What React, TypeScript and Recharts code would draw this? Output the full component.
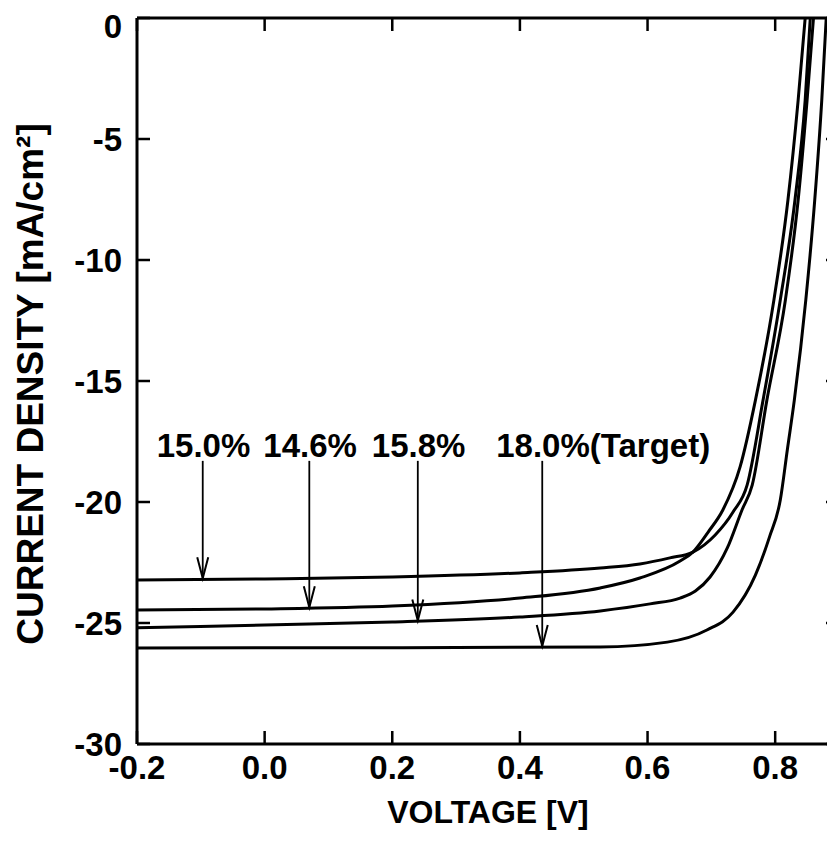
import React from "react";
import { LineChart, Line, XAxis, YAxis, ReferenceLine } from "recharts";

const voltageTicks = [-0.2, 0, 0.2, 0.4, 0.6, 0.8];
const currentTicks = [-30, -25, -20, -15, -10, -5, 0];

// 15.0% cell
const curveAVoltage = [-0.2, 0.0, 0.2, 0.4, 0.526, 0.588, 0.635, 0.671, 0.706, 0.734, 0.756, 0.781, 0.808, 0.831, 0.847, 0.855];
const curveACurrent = [-23.22, -23.18, -23.1, -22.93, -22.73, -22.56, -22.31, -22.07, -21.36, -20.41, -19.3, -15.79, -11.65, -7.52, -3.39, 0];

// 14.6% cell
const curveBVoltage = [-0.2, 0.0, 0.2, 0.4, 0.526, 0.588, 0.651, 0.671, 0.695, 0.718, 0.745, 0.769, 0.798, 0.82, 0.836, 0.847];
const curveBCurrent = [-24.46, -24.42, -24.3, -23.97, -23.55, -23.14, -22.44, -22.07, -21.24, -20.33, -18.55, -15.8, -11.65, -7.52, -3.39, 0];

// 15.8% cell
const curveCVoltage = [-0.2, 0.0, 0.2, 0.4, 0.526, 0.604, 0.651, 0.675, 0.698, 0.725, 0.748, 0.764, 0.787, 0.816, 0.836, 0.85, 0.86];
const curveCCurrent = [-25.2, -25.08, -24.96, -24.75, -24.5, -24.21, -23.97, -23.68, -23.1, -21.9, -20.33, -19.3, -15.79, -11.65, -7.52, -3.39, 0];

// 18.0% (target) cell
const curveDVoltage = [-0.2, 0.2, 0.526, 0.631, 0.693, 0.734, 0.769, 0.791, 0.808, 0.819, 0.83, 0.848, 0.862, 0.873, 0.88];
const curveDCurrent = [-26.03, -26.02, -25.99, -25.79, -25.29, -24.55, -23.02, -21.45, -19.92, -17.85, -15.79, -11.65, -7.52, -3.39, 0];

const arrowLabels = ["15.0%", "14.6%", "15.8%", "18.0%(Target)"];
const arrowVoltage = [-0.097, 0.07, 0.24, 0.435];
const arrowTip = [-23.15, -24.35, -24.9, -25.95];
const arrowTop = -18.3;

const font = "'Liberation Sans', Arial, Helvetica, sans-serif";

const toPoints = (v: number[], c: number[]) => v.map((x, i) => ({ v: x, j: c[i] }));

const curves = [
  toPoints(curveAVoltage, curveACurrent),
  toPoints(curveBVoltage, curveBCurrent),
  toPoints(curveCVoltage, curveCCurrent),
  toPoints(curveDVoltage, curveDCurrent),
];

const arrowShape = (label: string) => (props: any) => {
  const { x1, y1, y2 } = props;
  const x = x1;
  const top = Math.min(y1, y2);
  const tip = Math.max(y1, y2);
  return (
    <g>
      <line x1={x} y1={top} x2={x} y2={tip} stroke="#000" strokeWidth={1.8} />
      <polyline
        points={`${x - 5.5},${tip - 21} ${x},${tip} ${x + 5.5},${tip - 21}`}
        fill="none"
        stroke="#000"
        strokeWidth={2}
      />
      <text x={x - 46} y={top - 4} fontFamily={font} fontWeight="bold" fontSize={33} fill="#000">
        {label}
      </text>
    </g>
  );
};

const tickStyle = { fill: "#000", fontSize: 33, fontWeight: "bold", fontFamily: font };

export default function App() {
  return (
    <div style={{ width: 827, height: 835, overflow: "hidden" }}>
      <LineChart width={860} height={835} margin={{ top: 5, right: 0, bottom: 0, left: 0 }}>
        <XAxis
          xAxisId="bottom"
          type="number"
          dataKey="v"
          domain={[-0.2, 0.9]}
          ticks={voltageTicks}
          allowDataOverflow
          height={99}
          tickFormatter={(v: number) => v.toFixed(1)}
          axisLine={{ stroke: "#000", strokeWidth: 3 }}
          tickLine={{ stroke: "#000", strokeWidth: 2.5 }}
          tickSize={-13}
          tickMargin={25}
          tick={tickStyle}
          label={{
            content: () => (
              <text x={480} y={815} textAnchor="middle" fontFamily={font} fontWeight="bold" fontSize={32} fill="#000">
                VOLTAGE [V]
              </text>
            ),
          }}
        />
        <XAxis
          xAxisId="top"
          orientation="top"
          type="number"
          dataKey="v"
          domain={[-0.2, 0.9]}
          ticks={voltageTicks}
          allowDataOverflow
          height={5}
          tickFormatter={() => ""}
          axisLine={{ stroke: "#000", strokeWidth: 3 }}
          tickLine={{ stroke: "#000", strokeWidth: 2.5 }}
          tickSize={-13}
        />
        <YAxis
          yAxisId="left"
          type="number"
          domain={[-30, 0]}
          ticks={currentTicks}
          allowDataOverflow
          width={129}
          axisLine={{ stroke: "#000", strokeWidth: 3 }}
          tickLine={{ stroke: "#000", strokeWidth: 2.5 }}
          tickSize={-13}
          tickMargin={28}
          tick={tickStyle}
          label={{
            content: () => (
              <text
                x={22}
                y={376}
                transform="rotate(-90, 22, 376)"
                textAnchor="middle"
                dominantBaseline="central"
                fontFamily={font}
                fontWeight="bold"
                fontSize={37}
                fill="#000"
              >
                CURRENT DENSITY [mA/cm²]
              </text>
            ),
          }}
        />
        <YAxis
          yAxisId="right"
          orientation="right"
          type="number"
          domain={[-30, 0]}
          ticks={currentTicks}
          allowDataOverflow
          width={29}
          tickFormatter={() => ""}
          axisLine={{ stroke: "#000", strokeWidth: 3 }}
          tickLine={{ stroke: "#000", strokeWidth: 2.5 }}
          tickSize={-13}
        />
        {curves.map((pts, i) => (
          <Line
            key={i}
            data={pts}
            dataKey="j"
            xAxisId="bottom"
            yAxisId="left"
            type="monotone"
            dot={false}
            stroke="#000"
            strokeWidth={3}
            isAnimationActive={false}
          />
        ))}
        {arrowLabels.map((label, i) => (
          <ReferenceLine
            key={label}
            xAxisId="bottom"
            yAxisId="left"
            segment={[
              { x: arrowVoltage[i], y: arrowTop },
              { x: arrowVoltage[i], y: arrowTip[i] },
            ]}
            shape={arrowShape(label)}
          />
        ))}
      </LineChart>
    </div>
  );
}
